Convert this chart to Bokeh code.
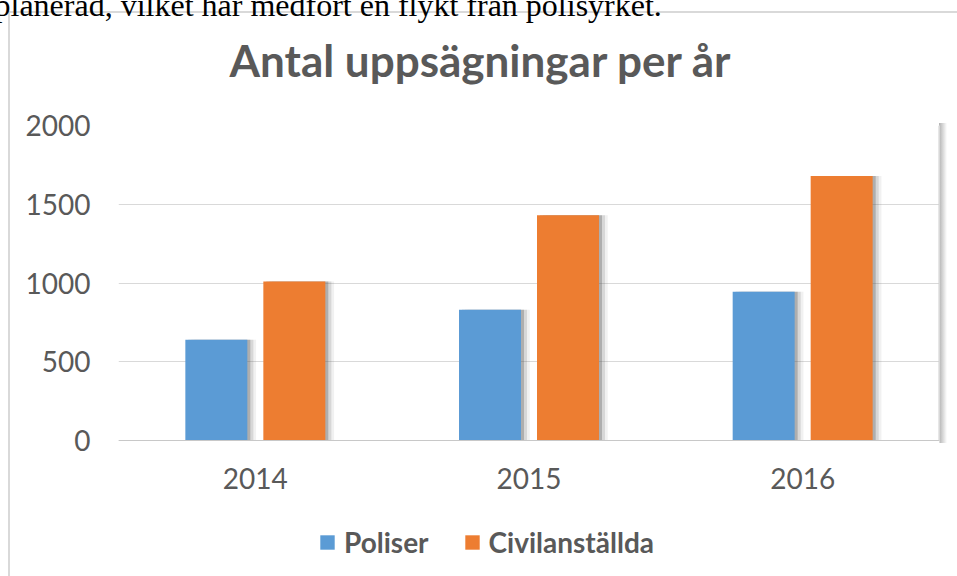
from bokeh.plotting import figure
from bokeh.models import (ColumnDataSource, FactorRange, Range1d, Legend, LegendItem,
                          BoxAnnotation, FixedTicker, Title)
from bokeh.transform import dodge
from bokeh.embed import file_html
from bokeh.resources import INLINE

# ---- data ----
years = ["2014", "2015", "2016"]
poliser = [640, 830, 945]
civilanstallda = [1010, 1430, 1680]
series_names = ["Poliser", "Civilanställda"]
y_ticks = [0, 500, 1000, 1500, 2000]
title_text = "Antal uppsägningar per år"
intro_text = "planerad, vilket har medfört en flykt från polisyrket."

# ---- styles ----
BLUE = "#5B9BD5"
ORANGE = "#ED7D31"
TEXT = "#595959"
GRID = "#d9d9d9"
FONT = "Lato"

FL, FR, FT, FB = 118, 939, 125, 440   # plot-area edges (value 2000 at FT, 0 at FB), page pixels
W, H = 957, 576
Y_MAX = 2000
# the frame runs down to the canvas bottom so that the legend lies inside it
Y_MIN = -(H - FB) * Y_MAX / (FB - FT)

src = ColumnDataSource(dict(year=years, poliser=poliser, civil=civilanstallda))

p = figure(frame_width=FR - FL, frame_height=H - FT,
           x_range=FactorRange(factors=years), y_range=Range1d(Y_MIN, Y_MAX),
           output_backend="svg", toolbar_location=None,
           min_border_left=FL, min_border_right=W - FR, min_border_top=0,
           min_border_bottom=0)
p.outline_line_color = None
p.border_fill_alpha = 0
p.background_fill_color = "white"

BW = 0.2265
OFF = 0.1425

# bar shadows
for off, alpha in ((0.032, 0.08), (0.022, 0.16), (0.011, 0.30)):
    p.vbar(x=dodge("year", -OFF + off, range=p.x_range), top="poliser", bottom=0, width=BW,
           source=src, fill_color="#505050", fill_alpha=alpha, line_color=None)
    p.vbar(x=dodge("year", OFF + off, range=p.x_range), top="civil", bottom=0, width=BW,
           source=src, fill_color="#505050", fill_alpha=alpha, line_color=None)

r1 = p.vbar(x=dodge("year", -OFF, range=p.x_range), top="poliser", bottom=0, width=BW,
            source=src, fill_color=BLUE, line_color=None)
r2 = p.vbar(x=dodge("year", OFF, range=p.x_range), top="civil", bottom=0, width=BW,
            source=src, fill_color=ORANGE, line_color=None)

# outermost title slot: the cut-off line of document text above the chart
p.title.text = intro_text
p.title.align = "left"
p.title.offset = -124
p.title.vertical_align = "bottom"
p.title.standoff = -31.4
p.title.text_font = "Liberation Serif"
p.title.text_font_style = "normal"
p.title.text_font_size = "32px"
p.title.text_color = "black"

# spacer between chart title and plot area (closest to the frame)
p.add_layout(Title(text=" ", standoff=0, text_font=FONT, text_font_size="10px"), "above")
# chart title
p.add_layout(Title(text=title_text, align="left", offset=111, vertical_align="middle",
                   standoff=50.2, text_font=FONT, text_font_style="bold",
                   text_font_size="44px", text_color=TEXT), "above")

# axes
p.yaxis.ticker = FixedTicker(ticks=y_ticks)
p.ygrid.ticker = FixedTicker(ticks=y_ticks)
p.xgrid.grid_line_color = None
p.ygrid.grid_line_color = GRID

for ax in (p.xaxis[0], p.yaxis[0]):
    ax.major_tick_line_color = None
    ax.minor_tick_line_color = None
    ax.major_label_text_font = FONT
    ax.major_label_text_font_size = "28px"
    ax.major_label_text_color = TEXT
p.yaxis.axis_line_color = None
p.yaxis.major_label_standoff = 22
p.xaxis.fixed_location = 0          # category axis drawn along the zero line
p.xaxis.axis_line_color = "#c8c8c8"
p.xaxis.major_label_standoff = 21

# legend, inside the (extended) frame below the category labels
legend = Legend(items=[LegendItem(label=series_names[0], renderers=[r1]),
                       LegendItem(label=series_names[1], renderers=[r2])],
                orientation="horizontal", location=(200, 17),
                glyph_width=18, glyph_height=18, label_standoff=8, spacing=34,
                padding=0, margin=0, border_line_color=None, background_fill_alpha=0,
                label_text_font=FONT, label_text_font_style="bold",
                label_text_font_size="28px", label_text_color=TEXT, label_height=30)
p.add_layout(legend, "center")

# plot-area right edge
p.add_layout(BoxAnnotation(left=FR - FL - 1, right=FR - FL, top=Y_MAX, bottom=0,
                           left_units="screen", right_units="screen", top_units="data",
                           bottom_units="data", fill_color="#cfcfcf", fill_alpha=1,
                           line_color=None))

# chart-box border and plot-area shadow, painted behind the transparent canvas border
p.styles = {
    "background-color": "white",
    "background-image": ("linear-gradient(#d9d9d9, #d9d9d9), linear-gradient(#d9d9d9, #d9d9d9), "
                         "linear-gradient(to right, rgba(0,0,0,0.30), rgba(0,0,0,0))"),
    "background-position": f"8px 11px, 8px 11px, {FR}px {FT - 2}px",
    "background-size": f"2px 700px, 1100px 2px, 8px {FB - FT + 5}px",
    "background-repeat": "no-repeat",
}

open("out.html", "w").write(file_html(p, INLINE))
